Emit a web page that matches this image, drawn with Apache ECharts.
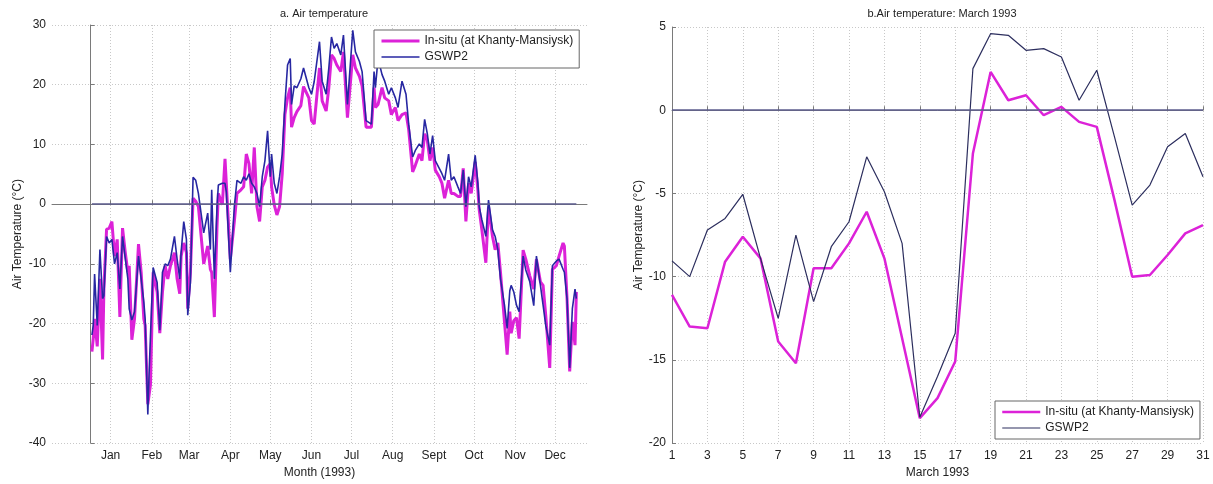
<!DOCTYPE html>
<html>
<head>
<meta charset="utf-8">
<script src="https://cdn.jsdelivr.net/npm/echarts@6/dist/echarts.min.js"></script>
<style>
  html, body { margin: 0; padding: 0; background: #fff; }
  #chart { width: 1213px; height: 484px; }
</style>
</head>
<body>
<div id="chart"></div>
<script>
// ---------- Panel a: daily air temperature 1993 (day of year) ----------
const yearDays = [
  1,2,3,5,7,9,10,12,14,16,
  18,20,22,24,26,28,29,31,33,36,
  38,40,41,43,44,45,47,50,52,54,
  56,58,60,63,65,67,68,70,72,73,
  75,77,79,81,85,88,90,91,93,95,
  96,99,101,102,105,108,110,113,115,117,
  119,121,123,125,127,129,131,133,135,136,
  138,140,142,144,146,148,150,151,153,155,
  158,160,164,166,168,172,174,177,179,181,
  183,185,188,190,193,197,199,202,204,207,
  211,213,214,216,219,221,224,226,229,231,
  234,237,239,242,244,247,249,251,253,255,
  257,259,262,264,266,269,271,273,276,278,
  280,282,284,286,289,291,292,294,297,299,
  302,304,306,308,311,313,315,316,318,320,
  322,325,327,330,333,335,338,340,342,345,
  347,350,352,355,356,358,360,362,364,365
];
const insituYear = [
  -24.7,-22.5,-19.2,-23.8,-12.5,-26.0,-14.2,-4.2,-4.0,-2.9,
  -8.7,-5.9,-18.9,-4.0,-8.0,-11.4,-10.3,-22.7,-19.2,-6.7,
  -11.4,-19.2,-20.3,-33.5,-33.8,-30.2,-11.4,-14.7,-21.6,-14.7,
  -10.3,-12.5,-10.3,-8.1,-12.5,-15.0,-8.7,-6.5,-8.1,-17.5,
  -11.4,1.0,0.5,-0.4,-10.0,-7.0,-10.9,-11.4,-18.9,-3.7,
  1.8,-0.1,7.6,7.9,-9.2,-2.9,1.8,2.4,2.9,8.4,
  6.8,1.8,9.5,-0.4,-2.9,2.9,4.0,6.2,6.8,2.9,
  -0.1,-1.8,-0.4,5.1,15.0,17.8,19.5,12.9,14.5,15.5,
  16.5,19.7,17.8,14.0,13.4,22.8,17.3,15.6,19.5,25.0,
  24.4,23.3,22.2,25.5,14.5,25.0,22.8,21.4,19.8,12.9,
  12.9,19.5,16.2,16.7,19.5,17.8,17.3,15.0,16.2,14.0,
  15.0,15.3,12.5,5.4,6.5,8.4,7.3,11.8,10.7,7.3,
  9.5,5.7,4.6,3.5,1.0,4.0,1.8,1.8,1.3,1.3,
  6.0,-2.9,3.5,1.8,7.1,2.4,-0.9,-4.3,-9.8,-0.4,
  -5.4,-7.6,-6.5,-11.4,-19.7,-25.2,-18.0,-21.6,-19.5,-19.0,
  -22.5,-7.7,-9.2,-12.0,-14.2,-9.2,-13.0,-13.6,-18.6,-27.4,
  -10.9,-10.3,-8.7,-6.5,-7.0,-15.8,-28.0,-19.7,-23.6,-14.7
];
const gswpYear = [
  -21.9,-20.3,-11.7,-20.3,-7.6,-15.8,-15.3,-5.4,-6.5,-5.9,
  -10.0,-8.1,-14.2,-5.4,-9.0,-12.5,-17.5,-19.4,-18.0,-8.7,
  -12.5,-16.4,-19.2,-35.2,-28.0,-22.0,-10.6,-13.1,-21.1,-11.4,
  -10.0,-10.3,-9.2,-5.4,-9.2,-12.5,-8.1,-2.9,-5.9,-18.6,
  -13.1,4.5,4.0,1.8,-4.8,-1.5,-7.6,2.4,-12.5,-0.4,
  3.2,3.5,3.5,2.0,-11.4,-0.4,4.0,3.5,4.6,4.0,
  5.1,3.5,2.9,1.8,-0.4,4.6,7.3,12.3,4.6,8.4,
  3.5,1.8,4.6,8.4,16.7,23.3,24.4,16.7,19.8,19.5,
  21.0,22.8,19.5,18.4,20.5,27.2,20.6,18.4,22.8,28.0,
  26.1,26.9,25.0,28.3,16.7,29.1,25.5,23.9,22.2,14.0,
  13.4,22.2,19.5,24.4,21.7,20.6,18.4,19.5,17.8,16.2,
  20.6,18.4,13.4,7.9,9.0,10.1,9.5,14.2,11.8,8.4,
  11.5,7.3,6.0,5.1,4.0,8.4,4.0,4.6,2.9,1.8,
  5.7,-0.4,4.6,2.9,8.2,3.5,-0.4,-2.6,-5.4,0.7,
  -4.3,-5.4,-7.6,-12.5,-16.9,-20.8,-14.5,-13.6,-14.7,-16.9,
  -18.0,-8.7,-11.0,-13.0,-17.0,-8.7,-13.6,-16.9,-20.3,-23.6,
  -10.3,-9.5,-9.2,-10.9,-11.4,-15.8,-27.4,-17.5,-14.2,-15.8
];
// month tick positions (mid-month day of year) and labels
const monthTickDays = [15,46,74,105,135,166,196,227,258,288,319,349];
const monthLabels = ['Jan','Feb','Mar','Apr','May','Jun','Jul','Aug','Sept','Oct','Nov','Dec'];

// ---------- Panel b: March 1993 ----------
const marchDays = ['1','2','3','4','5','6','7','8','9','10','11','12','13','14','15','16',
                   '17','18','19','20','21','22','23','24','25','26','27','28','29','30','31'];
const insituMarch = [-11.1,-13.0,-13.1,-9.1,-7.6,-8.9,-13.9,-15.2,-9.5,-9.5,-8.0,-6.1,-8.9,-13.7,-18.5,-17.3,
                     -15.1,-2.6,2.3,0.6,0.9,-0.3,0.2,-0.7,-1.0,-5.4,-10.0,-9.9,-8.7,-7.4,-6.9];
const gswpMarch = [-9.05,-10.0,-7.2,-6.5,-5.05,-8.9,-12.5,-7.5,-11.5,-8.2,-6.7,-2.8,-4.9,-8.0,-18.45,-16.0,
                   -13.4,2.5,4.6,4.5,3.6,3.7,3.2,0.6,2.4,-1.6,-5.7,-4.5,-2.2,-1.4,-4.0];

const NAME_INSITU = 'In-situ (at Khanty-Mansiysk)';
const NAME_GSWP = 'GSWP2';
const MAGENTA = '#dc22d8';
const NAVY_A = '#2727a2';
const NAVY_B = '#2c2e5e';
const ZERO = '#5c5c8e';
const FONT = 'Liberation Sans';

const chart = echarts.init(document.getElementById('chart'), null, { renderer: 'canvas' });

const axisLineStyle = { color: '#7a7a7a', width: 1 };
const gridLineStyle = { color: '#c8c8c8', type: [1, 2], width: 1 };
const labelStyle = { color: '#222', fontSize: 12, fontFamily: FONT };
const hiddenSymbol = { opacity: 0, borderWidth: 0 };

chart.setOption({
  animation: false,
  backgroundColor: '#fff',
  textStyle: { fontFamily: FONT },
  title: [
    { text: 'a. Air temperature', left: 319, top: 3, textAlign: 'center',
      textStyle: { fontSize: 11, fontWeight: 'normal', color: '#222', fontFamily: FONT } },
    { text: 'b.Air temperature: March 1993', left: 937, top: 3, textAlign: 'center',
      textStyle: { fontSize: 11, fontWeight: 'normal', color: '#222', fontFamily: FONT } }
  ],
  legend: [
    {
      left: 374, top: 30, orient: 'vertical',
      itemWidth: 38, itemHeight: 12, itemGap: 4,
      padding: [5, 6, 5, 6],
      backgroundColor: '#fff', borderColor: '#666', borderWidth: 1, borderRadius: 0,
      textStyle: { fontSize: 12, color: '#222', fontFamily: FONT },
      itemStyle: hiddenSymbol,
      data: [
        { name: NAME_INSITU, itemStyle: hiddenSymbol, lineStyle: { color: MAGENTA, width: 3 } },
        { name: NAME_GSWP, itemStyle: hiddenSymbol, lineStyle: { color: NAVY_A, width: 1.5 } }
      ]
    },
    {
      left: 995, top: 401, orient: 'vertical',
      itemWidth: 38, itemHeight: 12, itemGap: 4,
      padding: [5, 6, 5, 6],
      backgroundColor: '#fff', borderColor: '#666', borderWidth: 1, borderRadius: 0,
      textStyle: { fontSize: 12, color: '#222', fontFamily: FONT },
      itemStyle: hiddenSymbol,
      data: [
        { name: NAME_INSITU, itemStyle: hiddenSymbol, lineStyle: { color: MAGENTA, width: 2.5 } },
        { name: NAME_GSWP, itemStyle: hiddenSymbol, lineStyle: { color: NAVY_B, width: 1.2 } }
      ]
    }
  ],
  grid: [
    { left: 52, right: 626, top: 25, bottom: 37 },
    { left: 672, right: 10, top: 27, bottom: 37 }
  ],
  xAxis: [
    {
      gridIndex: 0, type: 'value', min: -29, max: 373,
      name: 'Month (1993)', nameLocation: 'middle', nameGap: 22,
      nameTextStyle: { fontSize: 12, color: '#222', fontFamily: FONT },
      axisLine: { show: true, lineStyle: axisLineStyle },
      axisTick: { show: true, inside: true, length: 4, lineStyle: axisLineStyle, customValues: monthTickDays },
      axisLabel: Object.assign({}, labelStyle, {
        margin: 7, customValues: monthTickDays,
        formatter: v => monthLabels[monthTickDays.indexOf(Math.round(v))] || ''
      }),
      splitLine: { show: true, lineStyle: gridLineStyle }
    },
    {
      gridIndex: 1, type: 'category', data: marchDays, boundaryGap: false,
      name: 'March 1993', nameLocation: 'middle', nameGap: 22,
      nameTextStyle: { fontSize: 12, color: '#222', fontFamily: FONT },
      axisLine: { show: true, lineStyle: axisLineStyle },
      axisTick: { show: true, inside: true, length: 4, interval: 1, lineStyle: axisLineStyle },
      axisLabel: Object.assign({}, labelStyle, { margin: 7, interval: 1 }),
      splitLine: { show: true, interval: 1, lineStyle: gridLineStyle }
    }
  ],
  yAxis: [
    {
      gridIndex: 0, type: 'value', min: -40, max: 30, interval: 10,
      name: 'Air Temperature (°C)', nameLocation: 'middle', nameGap: 28,
      nameTextStyle: { fontSize: 12, color: '#222', fontFamily: FONT },
      axisLine: { show: true, lineStyle: axisLineStyle },
      axisTick: { show: true, inside: true, length: 4, lineStyle: axisLineStyle },
      axisLabel: Object.assign({}, labelStyle, { margin: 6 }),
      splitLine: { show: true, lineStyle: gridLineStyle }
    },
    {
      gridIndex: 1, type: 'value', min: -20, max: 5, interval: 5,
      name: 'Air Temperature (°C)', nameLocation: 'middle', nameGap: 26,
      nameTextStyle: { fontSize: 12, color: '#222', fontFamily: FONT },
      axisLine: { show: true, lineStyle: axisLineStyle },
      axisTick: { show: true, inside: true, length: 4, lineStyle: axisLineStyle },
      axisLabel: Object.assign({}, labelStyle, { margin: 6 }),
      splitLine: { show: true, lineStyle: gridLineStyle }
    }
  ],
  series: [
    {
      name: NAME_INSITU, type: 'line', xAxisIndex: 0, yAxisIndex: 0,
      data: yearDays.map((d, i) => [d, insituYear[i]]),
      symbol: 'none', lineStyle: { color: MAGENTA, width: 3 }, itemStyle: { color: MAGENTA }, z: 2
    },
    {
      name: NAME_GSWP, type: 'line', xAxisIndex: 0, yAxisIndex: 0,
      data: yearDays.map((d, i) => [d, gswpYear[i]]),
      symbol: 'none', lineStyle: { color: NAVY_A, width: 1.6 }, itemStyle: { color: NAVY_A }, z: 3,
      markLine: {
        silent: true, symbol: 'none', label: { show: false },
        lineStyle: { color: ZERO, width: 1.5, type: 'solid' },
        data: [[{ coord: [yearDays[0], 0] }, { coord: [yearDays[yearDays.length - 1], 0] }]]
      }
    },
    {
      name: NAME_INSITU, type: 'line', xAxisIndex: 1, yAxisIndex: 1,
      data: insituMarch,
      symbol: 'none', lineStyle: { color: MAGENTA, width: 2.5 }, itemStyle: { color: MAGENTA }, z: 2
    },
    {
      name: NAME_GSWP, type: 'line', xAxisIndex: 1, yAxisIndex: 1,
      data: gswpMarch,
      symbol: 'none', lineStyle: { color: NAVY_B, width: 1.2 }, itemStyle: { color: NAVY_B }, z: 3,
      markLine: {
        silent: true, symbol: 'none', label: { show: false },
        lineStyle: { color: ZERO, width: 1.5, type: 'solid' },
        data: [{ yAxis: 0 }]
      }
    }
  ]
});
</script>
</body>
</html>
